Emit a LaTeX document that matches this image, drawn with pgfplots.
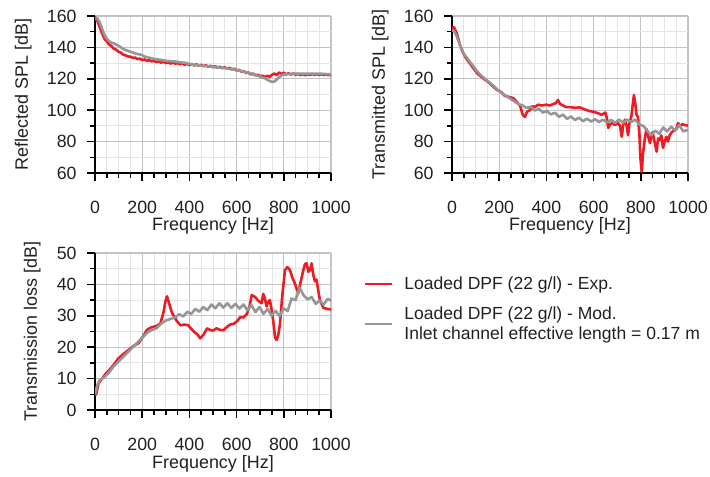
\documentclass[border=0pt]{standalone}
\usepackage{fontspec}
\setmainfont{Liberation Sans}
\usepackage{pgfplots}
\pgfplotsset{compat=1.18}
\definecolor{expred}{RGB}{237,28,36}
\definecolor{modgray}{RGB}{150,150,150}
\definecolor{gridmaj}{RGB}{195,195,195}
\definecolor{gridmin}{RGB}{228,228,228}
\definecolor{txt}{RGB}{35,31,32}
\pgfplotsset{
 base/.style={
  scale only axis, width=236bp, height=157bp,
  xmin=0, xmax=1000, xtick={0,200,...,1000}, minor x tick num=3,
  axis x line=bottom, axis y line=left,
  axis line style={line width=2.5bp, -, black},
  tick align=outside,
  major tick length=8bp, minor tick length=5bp,
  tick style={black, line width=1.5bp},
  grid=both,
  major grid style={draw=gridmaj, line width=1.3bp},
  minor grid style={draw=gridmin, line width=1bp},
  tick label style={font=\fontsize{17.8}{21}\selectfont, text=txt},
  label style={font=\fontsize{18}{21}\selectfont, text=txt},
  /pgf/number format/assume math mode=true,
  /pgf/number format/1000 sep={},
  xlabel={Frequency [Hz]},
  xticklabel style={yshift=-16.5bp},
  xlabel style={at={(axis description cs:0.5,0)}, anchor=base, yshift=-58bp},
  yticklabel shift=7bp,
  every axis plot/.append style={line width=2.6bp, line join=round},
 }
}
\begin{document}
\begin{tikzpicture}
\path[use as bounding box] (0,0) rectangle (710bp,477bp);
% ---------------- Reflected SPL
\begin{axis}[base, at={(95bp,304bp)}, anchor=south west,
  ymin=60, ymax=160, ytick={60,80,...,160}, minor y tick num=1,
  ylabel={Reflected SPL [dB]},
  ylabel style={at={(axis description cs:-0.284,0.5)}, anchor=base}]
\addplot[expred] coordinates {
(0,158) (10,157) (20,153) (30,149) (40,145.5) (50,143.8) (60,141.8) (70,140.8) (80,139.2) (90,138.5)
(100,137.2) (110,136.6) (120,135.3) (130,134.9) (140,134.2) (150,134.1) (160,133.4) (170,133.5) (180,132.6) (190,132.8)
(200,132) (210,132.3) (220,131.5) (230,131.8) (240,131.1) (250,131.4) (260,130.7) (270,131) (280,130.3) (290,130.8)
(300,130) (310,130.5) (320,129.7) (330,130.3) (340,129.6) (350,130.1) (360,129.3) (370,129.9) (380,128.9) (390,129.7)
(400,128.7) (410,129.4) (420,128.5) (430,129.2) (440,128.3) (450,128.9) (460,128) (470,128.6) (480,127.7) (490,128.3)
(500,127.4) (510,128) (520,127.1) (530,127.6) (540,126.8) (550,127.3) (560,126.5) (570,127) (580,126) (590,126.4)
(600,125.3) (610,125.7) (620,124.6) (630,124.9) (640,123.8) (650,124) (660,122.8) (670,123.3) (680,122.2) (690,122.6)
(700,121.5) (710,122) (720,121) (730,122) (740,121.2) (750,122.6) (760,123.3) (770,122.4) (780,124) (790,123)
(800,123.8) (810,122.8) (820,123.5) (830,122.7) (840,123.4) (850,122.5) (860,123.2) (870,122.3) (880,123) (890,122.2)
(900,123) (910,122.4) (920,123.1) (930,122.5) (940,123) (950,122.5) (960,122.9) (970,122.4) (980,122.8) (990,122.3) (1000,122.4)};
\addplot[modgray] coordinates {
(0,159) (10,158.5) (20,156) (30,152) (40,148) (50,145.5) (60,144) (70,143) (80,142.5) (90,141.8)
(100,141) (110,140) (120,139) (130,138.3) (140,137.8) (150,137.2) (160,136.8) (170,136.2) (180,135.8) (190,135.5)
(200,135) (210,134.2) (220,133.8) (240,133) (260,132.5) (280,132) (300,131.5) (320,131.2) (340,131) (360,130.5)
(380,130.2) (400,129.5) (420,128.8) (440,128.5) (460,128.3) (480,128) (500,127.5) (520,127.2) (540,127) (560,126.6)
(580,126) (600,125.6) (620,125) (640,124.3) (660,123.3) (680,122.3) (700,121.3) (720,120.3) (735,119) (750,118)
(760,118.3) (770,119.5) (780,121) (792,122.4) (810,123) (850,123.2) (900,123.3) (950,123.3) (1000,122.8)};
\end{axis}
% ---------------- Transmitted SPL
\begin{axis}[base, at={(452bp,304bp)}, anchor=south west,
  ymin=60, ymax=160, ytick={60,80,...,160}, minor y tick num=1,
  ylabel={Transmitted SPL [dB]},
  ylabel style={at={(axis description cs:-0.284,0.5)}, anchor=base}]
\addplot[expred] coordinates {
(0,152.5) (8,153) (20,149) (35,141) (47,136.4) (60,133) (75,130) (89,127) (110,123) (130,120.5)
(153,118) (175,115) (190,113) (208,111.6) (225,109) (240,108.5) (258,107.8) (270,106) (288,103) (300,97)
(309,95.7) (318,99) (330,100) (340,102.5) (351,102) (365,103.5) (380,103) (400,103.5) (415,103) (430,104)
(440,104.5) (449,106.5) (458,104) (470,103) (483,102) (500,102) (520,101.5) (540,101.8) (563,100.5) (580,99.5)
(600,99) (620,98) (634,97) (650,98.5) (656,95) (662,88.7) (670,91) (680,92) (690,90.5) (704,91.8)
(712,90) (719,83.1) (726,91) (733,94) (740,90) (746,84) (752,92) (760,96) (766,104) (771,109.7)
(776,105) (782,97) (788,95.7) (794,85) (798,70) (804,60.8) (809,72) (818,83) (824,88) (830,84)
(839,79) (845,84) (850,86) (858,80) (867,73.6) (873,82) (880,81) (887,84) (894,76) (901,80)
(908,83) (915,80) (922,84) (931,86) (940,87) (950,88) (958,91.8) (965,90) (975,91) (987,90.6) (1000,90)};
\addplot[modgray] coordinates {
(0,151) (10,150) (20,147) (30,143) (40,139) (50,136) (60,134) (80,130) (100,126) (120,122.5)
(140,120) (160,117.5) (180,115) (200,112) (220,110) (240,108) (260,106) (280,104) (300,103) (317,101.5)
(334,102.2) (351,99.8) (368,100.8) (385,98.5) (402,99.5) (419,97.3) (436,98.4) (453,95.8) (470,97.2) (487,94.5)
(504,96) (521,93.8) (538,95.2) (555,93) (572,94.6) (589,92.8) (606,94.2) (623,92.5) (640,94) (657,92.2)
(674,93.8) (691,92) (708,94) (725,92) (742,94) (759,92.5) (776,94) (793,91) (810,90) (827,87)
(844,84) (861,87) (878,85) (895,89) (912,86.5) (929,89.5) (946,87) (963,90.5) (980,86.5) (1000,87.5)};
\end{axis}
% ---------------- Transmission loss
\begin{axis}[base, at={(95bp,67bp)}, anchor=south west,
  ymin=0, ymax=50, ytick={0,10,...,50}, minor y tick num=1,
  ylabel={Transmission loss [dB]},
  ylabel style={at={(axis description cs:-0.246,0.5)}, anchor=base},
  legend style={at={(axis description cs:1.136,0.848)}, anchor=north west,
    draw=none, fill=none, inner sep=0pt, row sep=16bp, column sep=0bp,
    font=\fontsize{17.6}{19.5}\selectfont, text=txt,
    cells={anchor=west, align=left},
    nodes={inner xsep=11.5bp, inner ysep=0bp}},
  legend image code/.code={\draw[#1] (0bp,0bp) -- (27bp,0bp);}]
\addplot[expred] coordinates {
(0,4.8) (5,5) (15,8.5) (30,10) (45,11.5) (58,12.5) (75,14) (90,15.5) (100,16.5) (120,17.8)
(143,19.2) (165,20.5) (185,21.3) (200,23) (220,25.5) (235,26.2) (248,26.5) (262,26.8) (277,27.6) (290,31)
(298,34.5) (305,36.2) (312,34.5) (326,31) (345,28.5) (362,27) (380,27.2) (395,27) (418,25) (435,24)
(446,22.8) (460,24) (475,26) (487,25.5) (500,25.3) (515,26) (530,25.5) (544,25.4) (560,26.5) (572,27.2)
(590,27.5) (605,28.5) (614,29.5) (630,29.5) (643,30.5) (655,33) (664,36.6) (678,36) (692,34.8) (706,34)
(713,37) (720,35.5) (727,33) (734,34.5) (741,35) (748,32) (755,28.5) (763,23) (770,22.3) (777,24)
(784,27.6) (793,36) (805,44.6) (815,45.5) (826,44.6) (837,42) (847,40.3) (861,37.2) (872,41) (883,44.6)
(890,46.5) (897,46.7) (904,44) (911,44.6) (918,46.7) (925,43) (932,41) (939,41.5) (946,38) (953,35)
(968,32.5) (985,32.2) (1000,32)};
\addlegendentry{Loaded DPF (22 g/l) - Exp.}
\addplot[modgray] coordinates {
(0,5) (10,8) (20,9.5) (40,10.5) (60,12) (80,14) (100,15.5) (120,17) (140,18.5) (160,20)
(180,21.5) (200,23) (220,24.5) (240,25.5) (260,26) (280,27.5) (300,28.5) (320,29) (340,29.5) (357,30.5)
(374,29.8) (391,31.3) (408,30.6) (425,32.2) (442,31.3) (459,32.8) (476,31.8) (493,33.6) (510,32.4) (527,34)
(544,32.6) (561,34) (578,32.5) (595,33.8) (612,32.3) (629,33.6) (646,31.8) (663,33.4) (680,31.2) (697,32.8)
(714,30.6) (731,32.2) (748,30) (765,31.6) (782,29.8) (799,32.4) (816,31.5) (833,35.5) (850,35) (867,39)
(884,36.5) (901,35.2) (918,36) (935,33.8) (952,34.8) (969,33.6) (986,35.4) (1000,34.8)};
\addlegendentry{Loaded DPF (22 g/l) - Mod.\\Inlet channel effective length = 0.17 m}
\end{axis}
\end{tikzpicture}
\end{document}
